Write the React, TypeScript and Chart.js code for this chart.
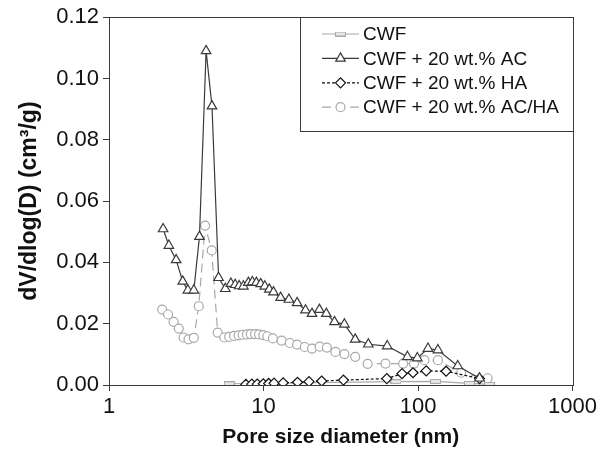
import React, { useEffect, useRef } from "react";
import { Chart, registerables } from "chart.js";

Chart.register(...registerables);

// ---- data (pore diameter in nm, dV/dlog(D) in cm3/g) ----
const cwfD = [6.0, 72, 130, 215, 290];
const cwfV = [0.0004, 0.0011, 0.0012, 0.0005, 0.0002];

const acD = [2.24, 2.44, 2.72, 3.0, 3.24, 3.54, 3.85, 4.25, 4.64, 5.12, 5.66, 6.15, 6.56, 6.96, 7.41, 7.98, 8.47, 8.99, 9.59, 10.2, 10.9, 11.6, 12.9, 14.6, 16.5, 18.7, 20.6, 23.0, 25.5, 28.8, 33.4, 39.2, 47.7, 63.2, 85.4, 99, 116, 134.5, 180.7, 250];
const acV = [0.0509, 0.0455, 0.0408, 0.0338, 0.0309, 0.0309, 0.0484, 0.109, 0.091, 0.035, 0.0314, 0.0331, 0.0327, 0.0323, 0.0322, 0.0334, 0.0336, 0.0334, 0.033, 0.0322, 0.0312, 0.0303, 0.0285, 0.0279, 0.0268, 0.0244, 0.0233, 0.0246, 0.0233, 0.0206, 0.0198, 0.0149, 0.0133, 0.0127, 0.0092, 0.0088, 0.0119, 0.0114, 0.0062, 0.0022];

const haD = [7.69, 8.4, 9.11, 9.97, 10.8, 11.7, 13.4, 16.6, 19.7, 23.8, 32.9, 62.8, 78.8, 92.8, 113, 152, 250];
const haV = [0.0002, 0.0003, 0.0003, 0.0004, 0.0005, 0.0006, 0.0007, 0.0009, 0.0011, 0.0013, 0.0016, 0.0021, 0.0037, 0.004, 0.0046, 0.0045, 0.0021];

const achaD = [2.21, 2.41, 2.62, 2.83, 3.04, 3.27, 3.54, 3.81, 4.19, 4.62, 5.05, 5.57, 6.0, 6.45, 6.89, 7.33, 7.81, 8.27, 8.82, 9.35, 9.97, 10.6, 11.5, 13.1, 14.8, 16.5, 18.5, 20.6, 23.1, 25.7, 29.2, 33.4, 39.2, 47.2, 61.6, 80.1, 94.2, 110, 134.5, 190, 282];
const achaV = [0.0246, 0.023, 0.0206, 0.0184, 0.0155, 0.0149, 0.0154, 0.0257, 0.052, 0.0439, 0.0171, 0.0155, 0.0157, 0.016, 0.0162, 0.0164, 0.0165, 0.0166, 0.0166, 0.0165, 0.0163, 0.0159, 0.0152, 0.0145, 0.0137, 0.0132, 0.0124, 0.0119, 0.0125, 0.0122, 0.0108, 0.0101, 0.0092, 0.0069, 0.007, 0.007, 0.007, 0.0081, 0.0081, 0.004, 0.0022];

const seriesNames = ["CWF", "CWF + 20 wt.% AC", "CWF + 20 wt.% HA", "CWF + 20 wt.% AC/HA"];
const xTicks = [1, 10, 100, 1000];
const yTicks = [0, 0.02, 0.04, 0.06, 0.08, 0.1, 0.12];
const xTitle = "Pore size diameter (nm)";
const yTitle = "dV/dlog(D) (cm\u00B3/g)";

const FONT = "'Liberation Sans', Arial, Helvetica, sans-serif";
const DARK = "#3a3a3a";
const LIGHT = "#a8a8a8";

const toPts = (d: number[], v: number[]) => d.map((x, i) => ({ x, y: v[i] }));

function makeDashMarker(): HTMLCanvasElement {
  const c = document.createElement("canvas");
  c.width = 11;
  c.height = 5;
  const g = c.getContext("2d")!;
  g.fillStyle = "#e6e6e6";
  g.fillRect(0.5, 0.5, 10, 4);
  g.strokeStyle = LIGHT;
  g.lineWidth = 1;
  g.strokeRect(0.5, 0.5, 10, 4);
  return c;
}

function drawMarker(ctx: CanvasRenderingContext2D, style: any, x: number, y: number, r: number, stroke: string) {
  ctx.save();
  ctx.setLineDash([]);
  if (typeof style !== "string") {
    ctx.drawImage(style, x - style.width / 2, y - style.height / 2);
    ctx.restore();
    return;
  }
  ctx.beginPath();
  if (style === "triangle") {
    ctx.moveTo(x, y - r);
    ctx.lineTo(x + 0.866 * r, y + 0.5 * r);
    ctx.lineTo(x - 0.866 * r, y + 0.5 * r);
    ctx.closePath();
  } else if (style === "rectRot") {
    ctx.moveTo(x - r, y);
    ctx.lineTo(x, y - r);
    ctx.lineTo(x + r, y);
    ctx.lineTo(x, y + r);
    ctx.closePath();
  } else {
    ctx.arc(x, y, r, 0, Math.PI * 2);
  }
  ctx.fillStyle = "#ffffff";
  ctx.fill();
  ctx.strokeStyle = stroke;
  ctx.lineWidth = 1.2;
  ctx.stroke();
  ctx.restore();
}

const framePlugin = {
  id: "frame",
  afterDraw(chart: any) {
    const { ctx, chartArea } = chart;
    ctx.save();
    ctx.strokeStyle = DARK;
    ctx.lineWidth = 1;
    ctx.setLineDash([]);
    ctx.strokeRect(Math.round(chartArea.left) + 0.5, Math.round(chartArea.top) + 0.5, Math.round(chartArea.right - chartArea.left), Math.round(chartArea.bottom - chartArea.top));
    ctx.restore();
  },
};

const legendPlugin = {
  id: "customLegend",
  afterDraw(chart: any) {
    const { ctx, chartArea } = chart;
    const right = Math.round(chartArea.right) + 0.5;
    const top = Math.round(chartArea.top) + 0.5;
    const left = 300.5;
    const bottom = 131.5;
    ctx.save();
    ctx.fillStyle = "#ffffff";
    ctx.fillRect(left, top, right - left, bottom - top);
    ctx.strokeStyle = DARK;
    ctx.lineWidth = 1;
    ctx.strokeRect(left, top, right - left, bottom - top);
    chart.data.datasets.forEach((ds: any, i: number) => {
      const y = 34 + i * 24.4;
      ctx.beginPath();
      ctx.setLineDash(ds.borderDash || []);
      ctx.strokeStyle = ds.borderColor;
      ctx.lineWidth = ds.borderWidth;
      ctx.moveTo(322, y);
      ctx.lineTo(359, y);
      ctx.stroke();
      drawMarker(ctx, ds.pointStyle, 340.5, y, ds.pointRadius, ds.pointBorderColor);
      ctx.setLineDash([]);
      ctx.fillStyle = "#111";
      ctx.font = `19px ${FONT}`;
      ctx.textBaseline = "middle";
      ctx.textAlign = "left";
      ctx.fillText(ds.label, 363, y + 1);
    });
    ctx.restore();
  },
};

export default function App() {
  const ref = useRef<HTMLCanvasElement | null>(null);

  useEffect(() => {
    if (!ref.current) return;
    const dash = makeDashMarker();
    const chart = new Chart(ref.current, {
      type: "line",
      data: {
        datasets: [
          {
            label: seriesNames[0],
            data: toPts(cwfD, cwfV),
            borderColor: LIGHT,
            borderWidth: 1.2,
            pointStyle: dash as any,
            pointRadius: 4,
            pointBorderColor: LIGHT,
            pointBackgroundColor: "#fff",
            order: 4,
          },
          {
            label: seriesNames[1],
            data: toPts(acD, acV),
            borderColor: DARK,
            borderWidth: 1.2,
            pointStyle: "triangle",
            pointRadius: 5.5,
            pointBorderColor: DARK,
            pointBackgroundColor: "#fff",
            pointBorderWidth: 1.2,
            order: 1,
          },
          {
            label: seriesNames[2],
            data: toPts(haD, haV),
            borderColor: "#111",
            borderWidth: 1.2,
            borderDash: [3, 2],
            pointStyle: "rectRot",
            pointRadius: 5,
            pointBorderColor: "#111",
            pointBackgroundColor: "#fff",
            pointBorderWidth: 1.2,
            order: 2,
          },
          {
            label: seriesNames[3],
            data: toPts(achaD, achaV),
            borderColor: LIGHT,
            borderWidth: 1.2,
            borderDash: [9, 5],
            pointStyle: "circle",
            pointRadius: 4.5,
            pointBorderColor: LIGHT,
            pointBackgroundColor: "#fff",
            pointBorderWidth: 1.2,
            order: 3,
          },
        ] as any,
      },
      options: {
        animation: false,
        responsive: false,
        devicePixelRatio: 1,
        layout: { padding: { top: 15, right: 25, left: 0, bottom: 0 } },
        plugins: { legend: { display: false }, tooltip: { enabled: false } },
        elements: { line: { tension: 0 } },
        scales: {
          x: {
            type: "logarithmic",
            min: 1,
            max: 1000,
            afterBuildTicks: (s: any) => {
              s.ticks = xTicks.map((v) => ({ value: v }));
            },
            afterFit: (s: any) => {
              s.height = 75;
            },
            ticks: {
              autoSkip: false,
              maxRotation: 0,
              padding: 3,
              color: "#111",
              font: { family: FONT, size: 22 },
              callback: (v: any) => String(v),
            },
            grid: { drawOnChartArea: false, drawTicks: true, tickLength: 6, color: DARK },
            border: { display: true, color: DARK },
            title: {
              display: true,
              text: xTitle,
              color: "#111",
              font: { family: FONT, size: 21, weight: "bold" },
              padding: { top: 0, bottom: 10 },
            },
          },
          y: {
            type: "linear",
            min: 0,
            max: 0.12,
            afterBuildTicks: (s: any) => {
              s.ticks = yTicks.map((v) => ({ value: v }));
            },
            afterFit: (s: any) => {
              s.width = 109;
            },
            ticks: {
              padding: 4,
              color: "#111",
              font: { family: FONT, size: 22 },
              callback: (v: any) => Number(v).toFixed(2),
            },
            grid: { drawOnChartArea: false, drawTicks: true, tickLength: 6, color: DARK },
            border: { display: true, color: DARK },
            title: {
              display: true,
              text: yTitle,
              color: "#111",
              font: { family: FONT, size: 23, weight: "bold" },
              padding: { top: 16, bottom: 0 },
            },
          },
        },
      } as any,
      plugins: [framePlugin, legendPlugin],
    });
    return () => chart.destroy();
  }, []);

  return (
    <div style={{ position: "absolute", left: 0, top: 0, width: 600, height: 460, background: "#fff" }}>
      <canvas ref={ref} width={600} height={460} />
    </div>
  );
}
